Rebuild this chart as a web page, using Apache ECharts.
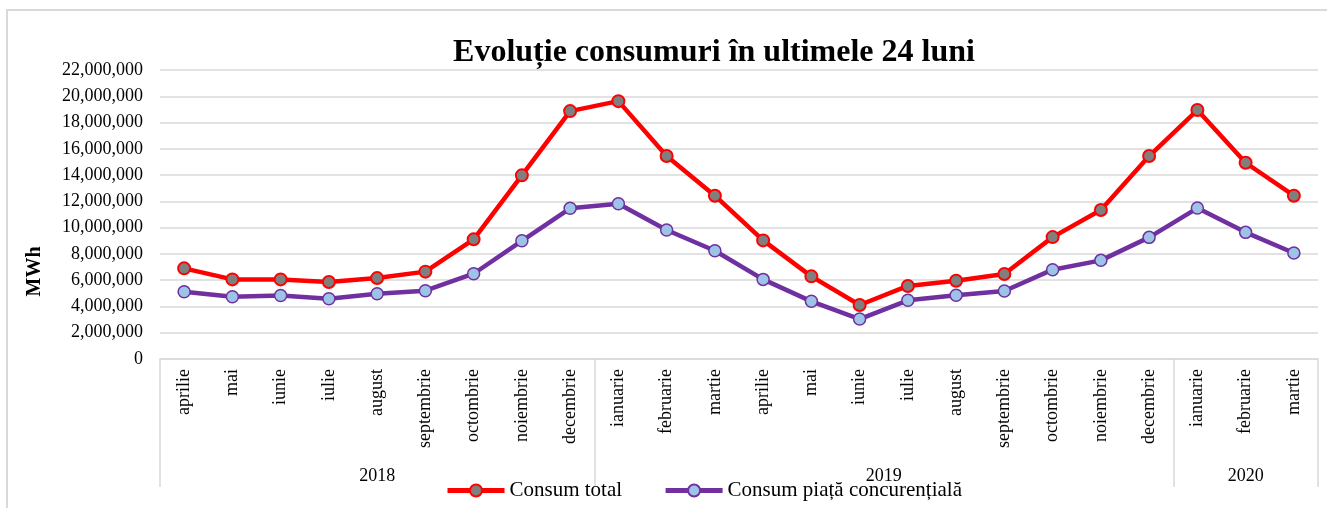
<!DOCTYPE html>
<html>
<head>
<meta charset="utf-8">
<script src="https://cdn.jsdelivr.net/npm/echarts@6/dist/echarts.min.js"></script>
<style>
    html, body { margin: 0; padding: 0; background: #fff; overflow: hidden; }
    #frame { position: absolute; left: 6px; top: 9px; width: 1340px; height: 520px; border: 2px solid #d9d9d9; box-sizing: border-box; }
    #main { position: absolute; left: 0; top: 0; width: 1327px; height: 508px; }
</style>
</head>
<body>
<div id="frame"></div>
<div id="main"></div>
<script>
// luni (aprilie 2018 - martie 2020)
var months = ['aprilie', 'mai', 'iunie', 'iulie', 'august', 'septembrie', 'octombrie', 'noiembrie', 'decembrie',
    'ianuarie', 'februarie', 'martie', 'aprilie', 'mai', 'iunie', 'iulie', 'august', 'septembrie', 'octombrie',
    'noiembrie', 'decembrie', 'ianuarie', 'februarie', 'martie'];
var years = ['2018', '2019', '2020'];
var yearSpans = [9, 12, 3];   // cate luni are fiecare an pe axa

var consumTotal = [6900000, 6060000, 6060000, 5860000, 6160000, 6650000, 9110000, 13980000, 18870000,
    19630000, 15450000, 12430000, 9030000, 6290000, 4110000, 5560000, 5960000, 6470000, 9280000,
    11340000, 15450000, 18950000, 14940000, 12430000];
var consumConcurential = [5120000, 4740000, 4840000, 4590000, 4970000, 5200000, 6490000, 9000000, 11470000,
    11820000, 9820000, 8240000, 6060000, 4390000, 3040000, 4470000, 4850000, 5180000, 6800000,
    7510000, 9260000, 11490000, 9640000, 8070000];

// axa anilor: puncte la fiecare jumatate de luna (0..48)
var yearAxis = [];
for (var i = 0; i <= months.length * 2; i++) yearAxis.push('');
var yearTicks = {}, yearLabels = {};
var start = 0;
years.forEach(function (y, k) {
    yearTicks[start * 2] = true;
    yearAxis[start * 2 + yearSpans[k]] = y;
    yearLabels[start * 2 + yearSpans[k]] = true;
    start += yearSpans[k];
});
yearTicks[start * 2] = true;

var font = 'Liberation Serif, Times New Roman, serif';
var gridColor = '#d9d9d9';

var myChart = echarts.init(document.getElementById('main'));
myChart.setOption({
    animation: false,
    title: {
        text: 'Evoluție consumuri în ultimele 24 luni',
        left: 709,
        top: 32,
        textAlign: 'center',
        textStyle: { fontFamily: font, fontSize: 32, fontWeight: 'bold', color: '#000' }
    },
    legend: {
        data: ['Consum total', 'Consum piață concurențială'],
        left: 440,
        top: 479,
        padding: [1, 5, 1, 5],
        itemWidth: 57,
        itemHeight: 15,
        itemGap: 41,
        lineStyle: { width: 5 },
        textStyle: { fontFamily: font, fontSize: 21, color: '#000' }
    },
    grid: { left: 160, right: 9, top: 70, bottom: 149 },
    xAxis: [
        {
            type: 'category',
            data: months,
            position: 'bottom',
            boundaryGap: true,
            axisLine: { lineStyle: { color: gridColor, width: 1.5 } },
            axisTick: { interval: 0, length: 95, lineStyle: { color: gridColor, width: 1.5 } },
            axisLabel: {
                interval: 0,
                rotate: 90,
                margin: 10,
                fontFamily: font,
                fontSize: 18,
                color: '#000'
            }
        },
        {
            type: 'category',
            data: yearAxis,
            position: 'bottom',
            offset: 0,
            boundaryGap: false,
            axisLine: { show: false },
            axisTick: {
                length: 128,
                interval: function (index) { return !!yearTicks[index]; },
                lineStyle: { color: gridColor, width: 1.5 }
            },
            axisLabel: {
                margin: 108,
                interval: function (index) { return !!yearLabels[index]; },
                fontFamily: font,
                fontSize: 18,
                color: '#000'
            },
            splitLine: { show: false }
        }
    ],
    yAxis: {
        type: 'value',
        min: 0,
        max: 22000000,
        interval: 2000000,
        name: 'MWh',
        nameLocation: 'middle',
        nameRotate: 90,
        nameGap: 115,
        nameTextStyle: { fontFamily: font, fontSize: 20, fontWeight: 'bold', color: '#000', padding: [0, 114, 0, 0] },
        axisLine: { show: false },
        axisTick: { show: false },
        axisLabel: {
            margin: 17,
            fontFamily: font,
            fontSize: 18,
            color: '#000',
            formatter: function (v) { return v.toLocaleString('en-US'); }
        },
        splitLine: { lineStyle: { color: gridColor, width: 1.5 } }
    },
    series: [
        {
            name: 'Consum total',
            type: 'line',
            data: consumTotal,
            symbol: 'circle',
            symbolSize: 12,
            lineStyle: { color: '#ff0000', width: 4.5 },
            itemStyle: { color: '#7f7f7f', borderColor: '#ff0000', borderWidth: 2 },
            z: 3
        },
        {
            name: 'Consum piață concurențială',
            type: 'line',
            data: consumConcurential,
            symbol: 'circle',
            symbolSize: 12,
            lineStyle: { color: '#7030a0', width: 4.5 },
            itemStyle: { color: '#9dc3e6', borderColor: '#7030a0', borderWidth: 1.5 },
            z: 2
        }
    ]
});
window.addEventListener('resize', function () {
    myChart.resize();
});
</script>
</body>
</html>
